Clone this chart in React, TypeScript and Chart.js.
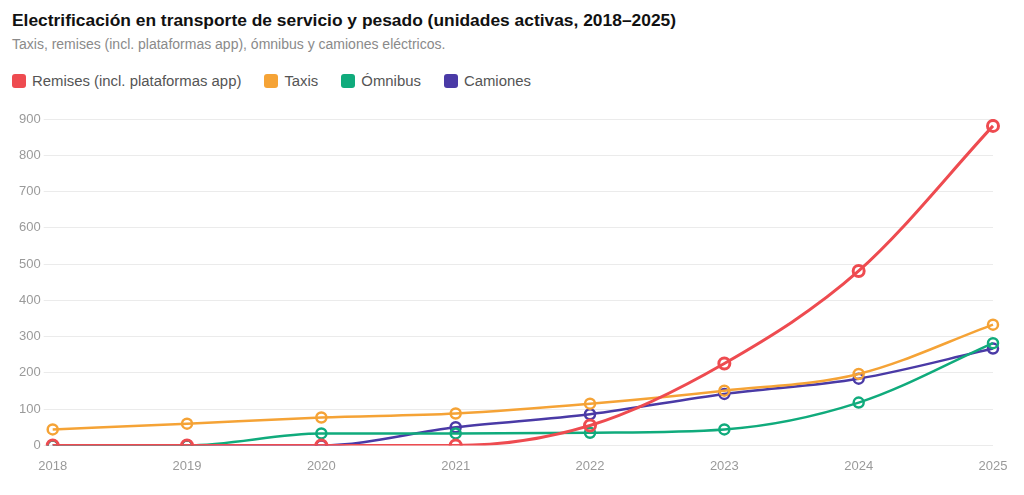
import { useEffect, useRef } from 'react'
import Chart from 'chart.js/auto'
import type { ChartConfiguration } from 'chart.js'

const years = ['2018', '2019', '2020', '2021', '2022', '2023', '2024', '2025']
const remises = [0, 0, 0, 0, 55, 226, 481, 881]
const taxis = [44, 60, 77, 88, 115, 151, 197, 333]
const omnibus = [0, 0, 33, 33, 35, 44, 118, 282]
const camiones = [0, 0, 0, 50, 86, 142, 184, 267]

const seriesNames = ['Remises (incl. plataformas app)', 'Taxis', 'Ómnibus', 'Camiones']
const seriesColors = ['#ee4b50', '#f5a336', '#10ab7c', '#4a3aa6']
const seriesValues = [remises, taxis, omnibus, camiones]

const font = '"Liberation Sans", Arial, Helvetica, sans-serif'

export default function App() {
  const canvasRef = useRef<HTMLCanvasElement>(null)

  useEffect(() => {
    if (!canvasRef.current) return

    const config: ChartConfiguration<'line'> = {
      type: 'line',
      data: {
        labels: years,
        datasets: seriesNames.map((name, i) => ({
          label: name,
          data: seriesValues[i],
          borderColor: seriesColors[i],
          backgroundColor: seriesColors[i],
          borderWidth: i === 0 ? 3 : 2.5,
          pointRadius: i === 0 ? 5.5 : 5,
          pointBorderWidth: i === 0 ? 3 : 2.5,
          pointBackgroundColor: 'rgba(255,255,255,0)',
          pointBorderColor: seriesColors[i],
          cubicInterpolationMode: 'monotone' as const,
          fill: false,
        })),
      },
      options: {
        responsive: true,
        maintainAspectRatio: false,
        animation: false,
        layout: {
          padding: { left: 8, right: 23, top: 12, bottom: 3 },
        },
        plugins: {
          legend: { display: false },
          tooltip: { enabled: false },
        },
        scales: {
          x: {
            grid: { display: false },
            border: { display: false },
            ticks: {
              color: '#9a9a9a',
              font: { family: font, size: 13 },
              padding: 5,
            },
          },
          y: {
            min: 0,
            max: 900,
            border: { display: false },
            grid: {
              color: '#ebebeb',
              lineWidth: 1,
              tickLength: 9,
            },
            ticks: {
              stepSize: 100,
              color: '#9a9a9a',
              font: { family: font, size: 13 },
              padding: 3,
            },
          },
        },
      },
    }

    const chart = new Chart(canvasRef.current, config)
    return () => chart.destroy()
  }, [])

  return (
    <div style={{ padding: '2px 0 0 4px', fontFamily: font }}>
      <div style={{ fontSize: 17.4, fontWeight: 'bold', lineHeight: '20px', color: '#111' }}>
        Electrificación en transporte de servicio y pesado (unidades activas, 2018–2025)
      </div>
      <div style={{ fontSize: 14, lineHeight: '20px', color: '#8a8a8a', marginTop: 4 }}>
        Taxis, remises (incl. plataformas app), ómnibus y camiones eléctricos.
      </div>
      {/* Legend */}
      <div style={{ display: 'flex', alignItems: 'center', marginTop: 17, height: 20 }}>
        {seriesNames.map((name, i) => (
          <div key={name} style={{ display: 'flex', alignItems: 'center', marginRight: 23 }}>
            <span
              style={{
                width: 14,
                height: 14,
                borderRadius: 3,
                background: seriesColors[i],
                display: 'inline-block',
                marginRight: 6,
              }}
            />
            <span style={{ fontSize: 14.9, color: '#555' }}>{name}</span>
          </div>
        ))}
      </div>
      <div style={{ position: 'relative', height: 375, marginTop: 16, marginLeft: -4 }}>
        <canvas ref={canvasRef} />
      </div>
    </div>
  )
}
